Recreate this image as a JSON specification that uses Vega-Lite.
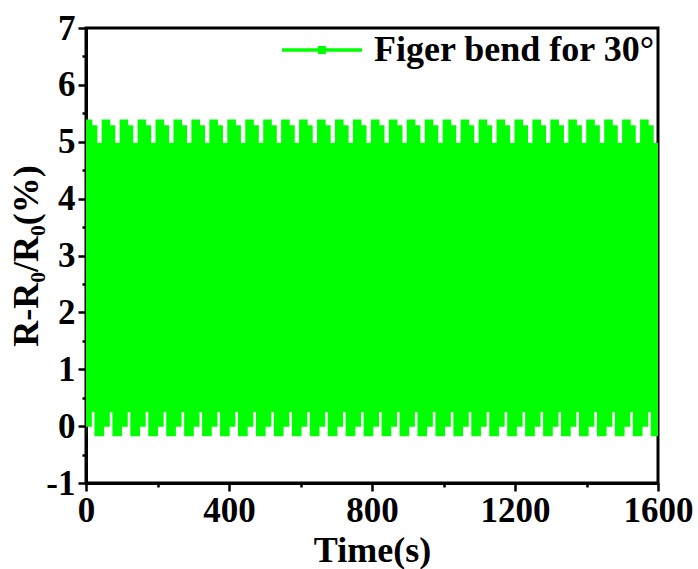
{
  "$schema": "https://vega.github.io/schema/vega-lite/v6.json",
  "width": 572,
  "height": 455,
  "autosize": {"type": "none"},
  "padding": {"left": 86, "top": 28, "right": 40, "bottom": 86},
  "background": "white",
  "config": {
    "view": {"stroke": "black", "strokeWidth": 3},
    "axis": {
      "grid": false,
      "domainColor": "black",
      "domainWidth": 3,
      "tickColor": "black",
      "tickWidth": 2.5,
      "labelFont": "Liberation Serif",
      "labelFontWeight": "bold",
      "labelFontSize": 35,
      "labelColor": "black",
      "titleFont": "Liberation Serif",
      "titleFontWeight": "bold",
      "titleFontSize": 36,
      "titleColor": "black",
      "labelOverlap": false,
      "labelFlush": false
    }
  },
  "data": {
    "values": [
      {"t": 0, "lo": -0.18, "hi": 5.39},
      {"t": 0.4, "lo": -0.01, "hi": 5.39},
      {"t": 16.4, "lo": 0.25, "hi": 5.39},
      {"t": 17.7, "lo": 0.25, "hi": 5.29},
      {"t": 23.6, "lo": -0.18, "hi": 5.29},
      {"t": 31.7, "lo": -0.18, "hi": 4.98},
      {"t": 43.9, "lo": -0.18, "hi": 5.39},
      {"t": 50.6, "lo": -0.01, "hi": 5.39},
      {"t": 66.6, "lo": 0.25, "hi": 5.39},
      {"t": 67.9, "lo": 0.25, "hi": 5.29},
      {"t": 73.8, "lo": -0.18, "hi": 5.29},
      {"t": 81.9, "lo": -0.18, "hi": 4.98},
      {"t": 94.1, "lo": -0.18, "hi": 5.39},
      {"t": 100.8, "lo": -0.01, "hi": 5.39},
      {"t": 116.8, "lo": 0.25, "hi": 5.39},
      {"t": 118.1, "lo": 0.25, "hi": 5.29},
      {"t": 124.0, "lo": -0.18, "hi": 5.29},
      {"t": 132.1, "lo": -0.18, "hi": 4.98},
      {"t": 144.3, "lo": -0.18, "hi": 5.39},
      {"t": 151.0, "lo": -0.01, "hi": 5.39},
      {"t": 167.0, "lo": 0.25, "hi": 5.39},
      {"t": 168.3, "lo": 0.25, "hi": 5.29},
      {"t": 174.2, "lo": -0.18, "hi": 5.29},
      {"t": 182.3, "lo": -0.18, "hi": 4.98},
      {"t": 194.5, "lo": -0.18, "hi": 5.39},
      {"t": 201.2, "lo": -0.01, "hi": 5.39},
      {"t": 217.2, "lo": 0.25, "hi": 5.39},
      {"t": 218.5, "lo": 0.25, "hi": 5.29},
      {"t": 224.4, "lo": -0.18, "hi": 5.29},
      {"t": 232.5, "lo": -0.18, "hi": 4.98},
      {"t": 244.7, "lo": -0.18, "hi": 5.39},
      {"t": 251.4, "lo": -0.01, "hi": 5.39},
      {"t": 267.4, "lo": 0.25, "hi": 5.39},
      {"t": 268.7, "lo": 0.25, "hi": 5.29},
      {"t": 274.6, "lo": -0.18, "hi": 5.29},
      {"t": 282.7, "lo": -0.18, "hi": 4.98},
      {"t": 294.9, "lo": -0.18, "hi": 5.39},
      {"t": 301.6, "lo": -0.01, "hi": 5.39},
      {"t": 317.6, "lo": 0.25, "hi": 5.39},
      {"t": 318.9, "lo": 0.25, "hi": 5.29},
      {"t": 324.8, "lo": -0.18, "hi": 5.29},
      {"t": 332.9, "lo": -0.18, "hi": 4.98},
      {"t": 345.1, "lo": -0.18, "hi": 5.39},
      {"t": 351.8, "lo": -0.01, "hi": 5.39},
      {"t": 367.8, "lo": 0.25, "hi": 5.39},
      {"t": 369.1, "lo": 0.25, "hi": 5.29},
      {"t": 375.0, "lo": -0.18, "hi": 5.29},
      {"t": 383.1, "lo": -0.18, "hi": 4.98},
      {"t": 395.3, "lo": -0.18, "hi": 5.39},
      {"t": 402.0, "lo": -0.01, "hi": 5.39},
      {"t": 418.0, "lo": 0.25, "hi": 5.39},
      {"t": 419.3, "lo": 0.25, "hi": 5.29},
      {"t": 425.2, "lo": -0.18, "hi": 5.29},
      {"t": 433.3, "lo": -0.18, "hi": 4.98},
      {"t": 445.5, "lo": -0.18, "hi": 5.39},
      {"t": 452.2, "lo": -0.01, "hi": 5.39},
      {"t": 468.2, "lo": 0.25, "hi": 5.39},
      {"t": 469.5, "lo": 0.25, "hi": 5.29},
      {"t": 475.4, "lo": -0.18, "hi": 5.29},
      {"t": 483.5, "lo": -0.18, "hi": 4.98},
      {"t": 495.7, "lo": -0.18, "hi": 5.39},
      {"t": 502.4, "lo": -0.01, "hi": 5.39},
      {"t": 518.4, "lo": 0.25, "hi": 5.39},
      {"t": 519.7, "lo": 0.25, "hi": 5.29},
      {"t": 525.6, "lo": -0.18, "hi": 5.29},
      {"t": 533.7, "lo": -0.18, "hi": 4.98},
      {"t": 545.9, "lo": -0.18, "hi": 5.39},
      {"t": 552.6, "lo": -0.01, "hi": 5.39},
      {"t": 568.6, "lo": 0.25, "hi": 5.39},
      {"t": 569.9, "lo": 0.25, "hi": 5.29},
      {"t": 575.8, "lo": -0.18, "hi": 5.29},
      {"t": 583.9, "lo": -0.18, "hi": 4.98},
      {"t": 596.1, "lo": -0.18, "hi": 5.39},
      {"t": 602.8, "lo": -0.01, "hi": 5.39},
      {"t": 618.8, "lo": 0.25, "hi": 5.39},
      {"t": 620.1, "lo": 0.25, "hi": 5.29},
      {"t": 626.0, "lo": -0.18, "hi": 5.29},
      {"t": 634.1, "lo": -0.18, "hi": 4.98},
      {"t": 646.3, "lo": -0.18, "hi": 5.39},
      {"t": 653.0, "lo": -0.01, "hi": 5.39},
      {"t": 669.0, "lo": 0.25, "hi": 5.39},
      {"t": 670.3, "lo": 0.25, "hi": 5.29},
      {"t": 676.2, "lo": -0.18, "hi": 5.29},
      {"t": 684.3, "lo": -0.18, "hi": 4.98},
      {"t": 696.5, "lo": -0.18, "hi": 5.39},
      {"t": 703.2, "lo": -0.01, "hi": 5.39},
      {"t": 719.2, "lo": 0.25, "hi": 5.39},
      {"t": 720.5, "lo": 0.25, "hi": 5.29},
      {"t": 726.4, "lo": -0.18, "hi": 5.29},
      {"t": 734.5, "lo": -0.18, "hi": 4.98},
      {"t": 746.7, "lo": -0.18, "hi": 5.39},
      {"t": 753.4, "lo": -0.01, "hi": 5.39},
      {"t": 769.4, "lo": 0.25, "hi": 5.39},
      {"t": 770.7, "lo": 0.25, "hi": 5.29},
      {"t": 776.6, "lo": -0.18, "hi": 5.29},
      {"t": 784.7, "lo": -0.18, "hi": 4.98},
      {"t": 796.9, "lo": -0.18, "hi": 5.39},
      {"t": 803.6, "lo": -0.01, "hi": 5.39},
      {"t": 819.6, "lo": 0.25, "hi": 5.39},
      {"t": 820.9, "lo": 0.25, "hi": 5.29},
      {"t": 826.8, "lo": -0.18, "hi": 5.29},
      {"t": 834.9, "lo": -0.18, "hi": 4.98},
      {"t": 847.1, "lo": -0.18, "hi": 5.39},
      {"t": 853.8, "lo": -0.01, "hi": 5.39},
      {"t": 869.8, "lo": 0.25, "hi": 5.39},
      {"t": 871.1, "lo": 0.25, "hi": 5.29},
      {"t": 877.0, "lo": -0.18, "hi": 5.29},
      {"t": 885.1, "lo": -0.18, "hi": 4.98},
      {"t": 897.3, "lo": -0.18, "hi": 5.39},
      {"t": 904.0, "lo": -0.01, "hi": 5.39},
      {"t": 920.0, "lo": 0.25, "hi": 5.39},
      {"t": 921.3, "lo": 0.25, "hi": 5.29},
      {"t": 927.2, "lo": -0.18, "hi": 5.29},
      {"t": 935.3, "lo": -0.18, "hi": 4.98},
      {"t": 947.5, "lo": -0.18, "hi": 5.39},
      {"t": 954.2, "lo": -0.01, "hi": 5.39},
      {"t": 970.2, "lo": 0.25, "hi": 5.39},
      {"t": 971.5, "lo": 0.25, "hi": 5.29},
      {"t": 977.4, "lo": -0.18, "hi": 5.29},
      {"t": 985.5, "lo": -0.18, "hi": 4.98},
      {"t": 997.7, "lo": -0.18, "hi": 5.39},
      {"t": 1004.4, "lo": -0.01, "hi": 5.39},
      {"t": 1020.4, "lo": 0.25, "hi": 5.39},
      {"t": 1021.7, "lo": 0.25, "hi": 5.29},
      {"t": 1027.6, "lo": -0.18, "hi": 5.29},
      {"t": 1035.7, "lo": -0.18, "hi": 4.98},
      {"t": 1047.9, "lo": -0.18, "hi": 5.39},
      {"t": 1054.6, "lo": -0.01, "hi": 5.39},
      {"t": 1070.6, "lo": 0.25, "hi": 5.39},
      {"t": 1071.9, "lo": 0.25, "hi": 5.29},
      {"t": 1077.8, "lo": -0.18, "hi": 5.29},
      {"t": 1085.9, "lo": -0.18, "hi": 4.98},
      {"t": 1098.1, "lo": -0.18, "hi": 5.39},
      {"t": 1104.8, "lo": -0.01, "hi": 5.39},
      {"t": 1120.8, "lo": 0.25, "hi": 5.39},
      {"t": 1122.1, "lo": 0.25, "hi": 5.29},
      {"t": 1128.0, "lo": -0.18, "hi": 5.29},
      {"t": 1136.1, "lo": -0.18, "hi": 4.98},
      {"t": 1148.3, "lo": -0.18, "hi": 5.39},
      {"t": 1155.0, "lo": -0.01, "hi": 5.39},
      {"t": 1171.0, "lo": 0.25, "hi": 5.39},
      {"t": 1172.3, "lo": 0.25, "hi": 5.29},
      {"t": 1178.2, "lo": -0.18, "hi": 5.29},
      {"t": 1186.3, "lo": -0.18, "hi": 4.98},
      {"t": 1198.5, "lo": -0.18, "hi": 5.39},
      {"t": 1205.2, "lo": -0.01, "hi": 5.39},
      {"t": 1221.2, "lo": 0.25, "hi": 5.39},
      {"t": 1222.5, "lo": 0.25, "hi": 5.29},
      {"t": 1228.4, "lo": -0.18, "hi": 5.29},
      {"t": 1236.5, "lo": -0.18, "hi": 4.98},
      {"t": 1248.7, "lo": -0.18, "hi": 5.39},
      {"t": 1255.4, "lo": -0.01, "hi": 5.39},
      {"t": 1271.4, "lo": 0.25, "hi": 5.39},
      {"t": 1272.7, "lo": 0.25, "hi": 5.29},
      {"t": 1278.6, "lo": -0.18, "hi": 5.29},
      {"t": 1286.7, "lo": -0.18, "hi": 4.98},
      {"t": 1298.9, "lo": -0.18, "hi": 5.39},
      {"t": 1305.6, "lo": -0.01, "hi": 5.39},
      {"t": 1321.6, "lo": 0.25, "hi": 5.39},
      {"t": 1322.9, "lo": 0.25, "hi": 5.29},
      {"t": 1328.8, "lo": -0.18, "hi": 5.29},
      {"t": 1336.9, "lo": -0.18, "hi": 4.98},
      {"t": 1349.1, "lo": -0.18, "hi": 5.39},
      {"t": 1355.8, "lo": -0.01, "hi": 5.39},
      {"t": 1371.8, "lo": 0.25, "hi": 5.39},
      {"t": 1373.1, "lo": 0.25, "hi": 5.29},
      {"t": 1379.0, "lo": -0.18, "hi": 5.29},
      {"t": 1387.1, "lo": -0.18, "hi": 4.98},
      {"t": 1399.3, "lo": -0.18, "hi": 5.39},
      {"t": 1406.0, "lo": -0.01, "hi": 5.39},
      {"t": 1422.0, "lo": 0.25, "hi": 5.39},
      {"t": 1423.3, "lo": 0.25, "hi": 5.29},
      {"t": 1429.2, "lo": -0.18, "hi": 5.29},
      {"t": 1437.3, "lo": -0.18, "hi": 4.98},
      {"t": 1449.5, "lo": -0.18, "hi": 5.39},
      {"t": 1456.2, "lo": -0.01, "hi": 5.39},
      {"t": 1472.2, "lo": 0.25, "hi": 5.39},
      {"t": 1473.5, "lo": 0.25, "hi": 5.29},
      {"t": 1479.4, "lo": -0.18, "hi": 5.29},
      {"t": 1487.5, "lo": -0.18, "hi": 4.98},
      {"t": 1499.7, "lo": -0.18, "hi": 5.39},
      {"t": 1506.4, "lo": -0.01, "hi": 5.39},
      {"t": 1522.4, "lo": 0.25, "hi": 5.39},
      {"t": 1523.7, "lo": 0.25, "hi": 5.29},
      {"t": 1529.6, "lo": -0.18, "hi": 5.29},
      {"t": 1537.7, "lo": -0.18, "hi": 4.98},
      {"t": 1549.9, "lo": -0.18, "hi": 5.39},
      {"t": 1556.6, "lo": -0.01, "hi": 5.39},
      {"t": 1572.6, "lo": 0.25, "hi": 5.39},
      {"t": 1573.9, "lo": 0.25, "hi": 5.29},
      {"t": 1579.8, "lo": -0.18, "hi": 5.29},
      {"t": 1587.9, "lo": -0.18, "hi": 4.98},
      {"t": 1600, "lo": -0.18, "hi": 4.98}
    ]
  },
  "mark": {"type": "area", "interpolate": "step-after", "opacity": 1},
  "encoding": {
    "x": {
      "field": "t",
      "type": "quantitative",
      "scale": {"domain": [0, 1600], "nice": false, "zero": false},
      "axis": {
        "title": "Time(s)",
        "values": [0, 200, 400, 600, 800, 1000, 1200, 1400, 1600],
        "format": "d",
        "labelExpr": "datum.value % 400 ? '' : datum.label",
        "tickSize": {"condition": {"test": "datum.value % 400 != 0", "value": 4}, "value": 8},
        "labelPadding": 2,
        "titlePadding": 5
      }
    },
    "y": {
      "field": "lo",
      "type": "quantitative",
      "scale": {"domain": [-1, 7], "nice": false, "zero": false},
      "axis": {
        "title": "R-R₀/R₀(%)",
        "values": [-1, -0.5, 0, 0.5, 1, 1.5, 2, 2.5, 3, 3.5, 4, 4.5, 5, 5.5, 6, 6.5, 7],
        "labelExpr": "datum.value % 1 ? '' : '' + datum.value",
        "tickSize": {"condition": {"test": "datum.value % 1 != 0", "value": 4}, "value": 8},
        "labelPadding": 3,
        "titlePadding": 0
      }
    },
    "y2": {"field": "hi"},
    "color": {
      "datum": "Figer bend for 30°",
      "scale": {"range": ["#00ff00"]},
      "legend": {
        "title": null,
        "orient": "none",
        "legendX": 194,
        "legendY": -20,
        "padding": 0,
        "symbolType": "M-1,0H1M-0.056,-0.056H0.056V0.056H-0.056Z",
        "symbolSize": 6400,
        "symbolStrokeWidth": 3.5,
        "symbolFillColor": "#00ff00",
        "symbolStrokeColor": "#00ff00",
        "symbolOpacity": 1,
        "labelFont": "Liberation Serif",
        "labelFontWeight": "bold",
        "labelFontSize": 36,
        "labelColor": "black",
        "labelOffset": 10,
        "labelLimit": 400
      }
    }
  }
}
